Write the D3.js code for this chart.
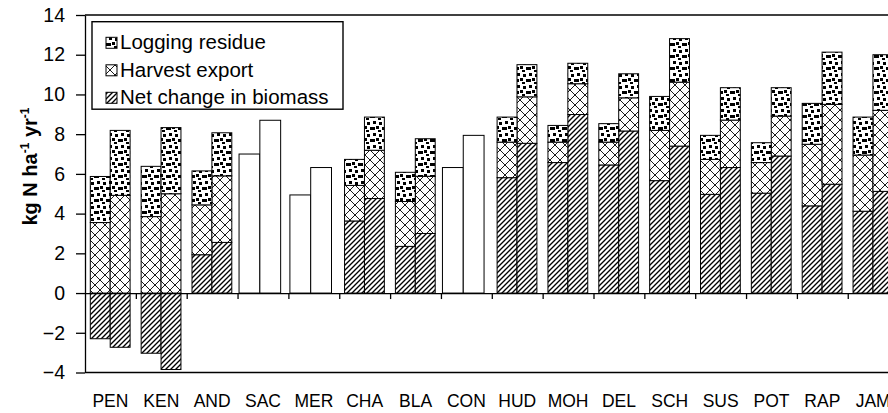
<!DOCTYPE html>
<html>
<head>
<meta charset="utf-8">
<script src="https://cdn.jsdelivr.net/npm/d3@7"></script>
<style>
	body { margin: 0; background: #fff; }
	svg { display: block; }
</style>
</head>
<body>
<div id="chart"></div>
<script>
// Sites, two bars per site (left = a, right = b)
var categories = ['PEN', 'KEN', 'AND', 'SAC', 'MER', 'CHA', 'BLA', 'CON', 'HUD', 'MOH', 'DEL', 'SCH', 'SUS', 'POT', 'RAP', 'JAM'];
var seriesNames = ['Logging residue', 'Harvest export', 'Net change in biomass'];

var biomassA = [-2.3, -3.03, 1.93, null, null, 3.63, 2.35, null, 5.81, 6.57, 6.45, 5.66, 4.97, 5.03, 4.39, 4.12];
var harvestA = [3.55, 3.85, 2.51, null, null, 1.79, 2.26, null, 1.79, 1.03, 1.15, 2.53, 1.76, 1.54, 3.1, 2.83];
var residueA = [2.32, 2.53, 1.71, null, null, 1.31, 1.47, null, 1.26, 0.84, 0.93, 1.71, 1.21, 1.0, 2.06, 1.91];

var biomassB = [-2.73, -3.85, 2.55, null, null, 4.76, 3.0, null, 7.54, 8.99, 8.16, 7.4, 6.32, 6.9, 5.48, 5.12];
var harvestB = [4.92, 5.0, 3.35, null, null, 2.43, 2.88, null, 2.34, 1.55, 1.67, 3.22, 2.39, 2.01, 4.02, 4.08];
var residueB = [3.27, 3.33, 2.17, null, null, 1.67, 1.89, null, 1.62, 1.03, 1.21, 2.19, 1.63, 1.43, 2.63, 2.8];

// sites with only a total (open bars)
var totalA = [null, null, null, 7.0, 4.94, null, null, 6.32, null, null, null, null, null, null, null, null];
var totalB = [null, null, null, 8.7, 6.32, null, null, 7.94, null, null, null, null, null, null, null, null];

var yTicks = [-4, -2, 0, 2, 4, 6, 8, 10, 12, 14];

var width = 888, height = 413;
var fontFamily = '"Liberation Sans", Arial, Helvetica, sans-serif';
var band = 50.85;
var plotLeft = 85;

var x = d3.scaleBand().domain(categories).range([plotLeft, plotLeft + band * categories.length]);
var xEdge = d3.scaleLinear().domain([0, categories.length]).range(x.range());
var y = d3.scaleLinear().domain([-4, 14]).range([372.5, 15]);

var svg = d3.select('#chart').append('svg')
	.attr('width', width)
	.attr('height', height)
	.attr('font-family', fontFamily);

// patterns
var defs = svg.append('defs');
var dots = defs.append('pattern').attr('id', 'dots')
	.attr('patternUnits', 'userSpaceOnUse').attr('width', 12).attr('height', 12);
dots.append('rect').attr('width', 12).attr('height', 12).attr('fill', '#fff');
[[1, 1], [7, 2], [4, 6], [10, 7], [6, 10], [0, 7]].forEach(function(p) {
	dots.append('rect').attr('x', p[0]).attr('y', p[1]).attr('width', 3).attr('height', 3)
		.attr('fill', '#000').attr('shape-rendering', 'crispEdges');
});
var cross = defs.append('pattern').attr('id', 'cross')
	.attr('patternUnits', 'userSpaceOnUse').attr('width', 10).attr('height', 10);
cross.append('rect').attr('width', 10).attr('height', 10).attr('fill', '#fff');
cross.append('path').attr('d', 'M0,0L10,10M10,0L0,10')
	.attr('stroke', '#000').attr('stroke-width', 0.9).attr('fill', 'none');
var hatch = defs.append('pattern').attr('id', 'hatch')
	.attr('patternUnits', 'userSpaceOnUse').attr('width', 5).attr('height', 5);
hatch.append('rect').attr('width', 5).attr('height', 5).attr('fill', '#fff');
hatch.append('path').attr('d', 'M-1,1L1,-1M0,5L5,0M4,6L6,4')
	.attr('stroke', '#000').attr('stroke-width', 1.35).attr('fill', 'none');

var fills = {biomass: 'url(#hatch)', harvest: 'url(#cross)', residue: 'url(#dots)'};

// build rows for the stacked bars
var rows = [];
categories.forEach(function(c, i) {
	if (biomassA[i] !== null) rows.push({cat: c, side: 0, biomass: biomassA[i], harvest: harvestA[i], residue: residueA[i]});
	if (biomassB[i] !== null) rows.push({cat: c, side: 1, biomass: biomassB[i], harvest: harvestB[i], residue: residueB[i]});
});
var stacked = d3.stack()
	.keys(['biomass', 'harvest', 'residue'])
	.offset(d3.stackOffsetDiverging)(rows);

var barW = 19.9, barOff = 5.3;
stacked.forEach(function(layer) {
	svg.append('g').selectAll('rect')
		.data(layer)
		.enter().append('rect')
		.attr('x', function(d) { return x(d.data.cat) + barOff + d.data.side * barW; })
		.attr('y', function(d) { return y(Math.max(d[0], d[1])); })
		.attr('width', barW)
		.attr('height', function(d) { return Math.abs(y(d[0]) - y(d[1])); })
		.attr('fill', fills[layer.key])
		.attr('stroke', '#000')
		.attr('stroke-width', 1);
});

// open bars (totals only)
var openRows = [];
categories.forEach(function(c, i) {
	if (totalA[i] !== null) openRows.push({cat: c, side: 0, v: totalA[i]});
	if (totalB[i] !== null) openRows.push({cat: c, side: 1, v: totalB[i]});
});
var openW = 20.8, openOff = 1.5;
svg.append('g').selectAll('rect')
	.data(openRows)
	.enter().append('rect')
	.attr('x', function(d) { return x(d.cat) + openOff + d.side * openW; })
	.attr('y', function(d) { return y(d.v); })
	.attr('width', openW)
	.attr('height', function(d) { return y(0) - y(d.v); })
	.attr('fill', '#fff')
	.attr('stroke', '#000')
	.attr('stroke-width', 1);

// frame lines top and bottom
svg.append('line')
	.attr('x1', plotLeft).attr('x2', xEdge(categories.length))
	.attr('y1', y(14)).attr('y2', y(14))
	.attr('stroke', '#000').attr('stroke-width', 1.4);
svg.append('line')
	.attr('x1', plotLeft).attr('x2', xEdge(categories.length))
	.attr('y1', y(-4)).attr('y2', y(-4))
	.attr('stroke', '#000').attr('stroke-width', 1.4);

// zero axis with ticks between sites
var zeroAxis = svg.append('g')
	.attr('transform', 'translate(0,' + y(0) + ')')
	.call(d3.axisBottom(xEdge)
		.tickValues(d3.range(1, categories.length))
		.tickFormat('')
		.tickSize(6)
		.tickSizeOuter(0));
zeroAxis.selectAll('path, line').attr('stroke', '#000').attr('stroke-width', 1.3);

// y axis
var yAxis = svg.append('g')
	.attr('transform', 'translate(' + plotLeft + ',0)')
	.call(d3.axisLeft(y)
		.tickValues(yTicks)
		.tickSize(9)
		.tickPadding(11)
		.tickSizeOuter(0));
yAxis.selectAll('path, line').attr('stroke', '#000').attr('stroke-width', 1.3);
yAxis.selectAll('text')
	.attr('font-size', '19.5px')
	.attr('font-family', fontFamily)
	.attr('fill', '#000');

// site labels
var xAxis = svg.append('g')
	.attr('transform', 'translate(0,' + y(-4) + ')')
	.call(d3.axisBottom(x).tickSize(0).tickPadding(22));
xAxis.select('.domain').remove();
xAxis.selectAll('text')
	.attr('font-size', '17.5px')
	.attr('font-family', fontFamily)
	.attr('fill', '#000');

// y axis title
var title = svg.append('text')
	.attr('transform', 'translate(37,166.5) rotate(-90)')
	.attr('text-anchor', 'middle')
	.attr('font-size', '20px')
	.attr('font-weight', 'bold')
	.attr('fill', '#000');
title.append('tspan').text('kg N ha');
title.append('tspan').attr('dy', -8).attr('font-size', '12px').text('-1');
title.append('tspan').attr('dy', 8).text(' yr');
title.append('tspan').attr('dy', -8).attr('font-size', '12px').text('-1');

// legend
var legend = svg.append('g');
legend.append('rect')
	.attr('x', 92).attr('y', 21.7)
	.attr('width', 251).attr('height', 87.5)
	.attr('fill', '#fff')
	.attr('stroke', '#000').attr('stroke-width', 1.4);
var legendFills = ['url(#dots)', 'url(#cross)', 'url(#hatch)'];
seriesNames.forEach(function(name, i) {
	var base = 49.3 + i * 27.5;
	legend.append('rect')
		.attr('x', 106).attr('y', base - 12)
		.attr('width', 11).attr('height', 11)
		.attr('fill', legendFills[i])
		.attr('stroke', '#000').attr('stroke-width', 1);
	legend.append('text')
		.attr('x', 120).attr('y', base)
		.attr('font-size', '20.5px')
		.attr('fill', '#000')
		.text(name);
});
</script>
</body>
</html>
